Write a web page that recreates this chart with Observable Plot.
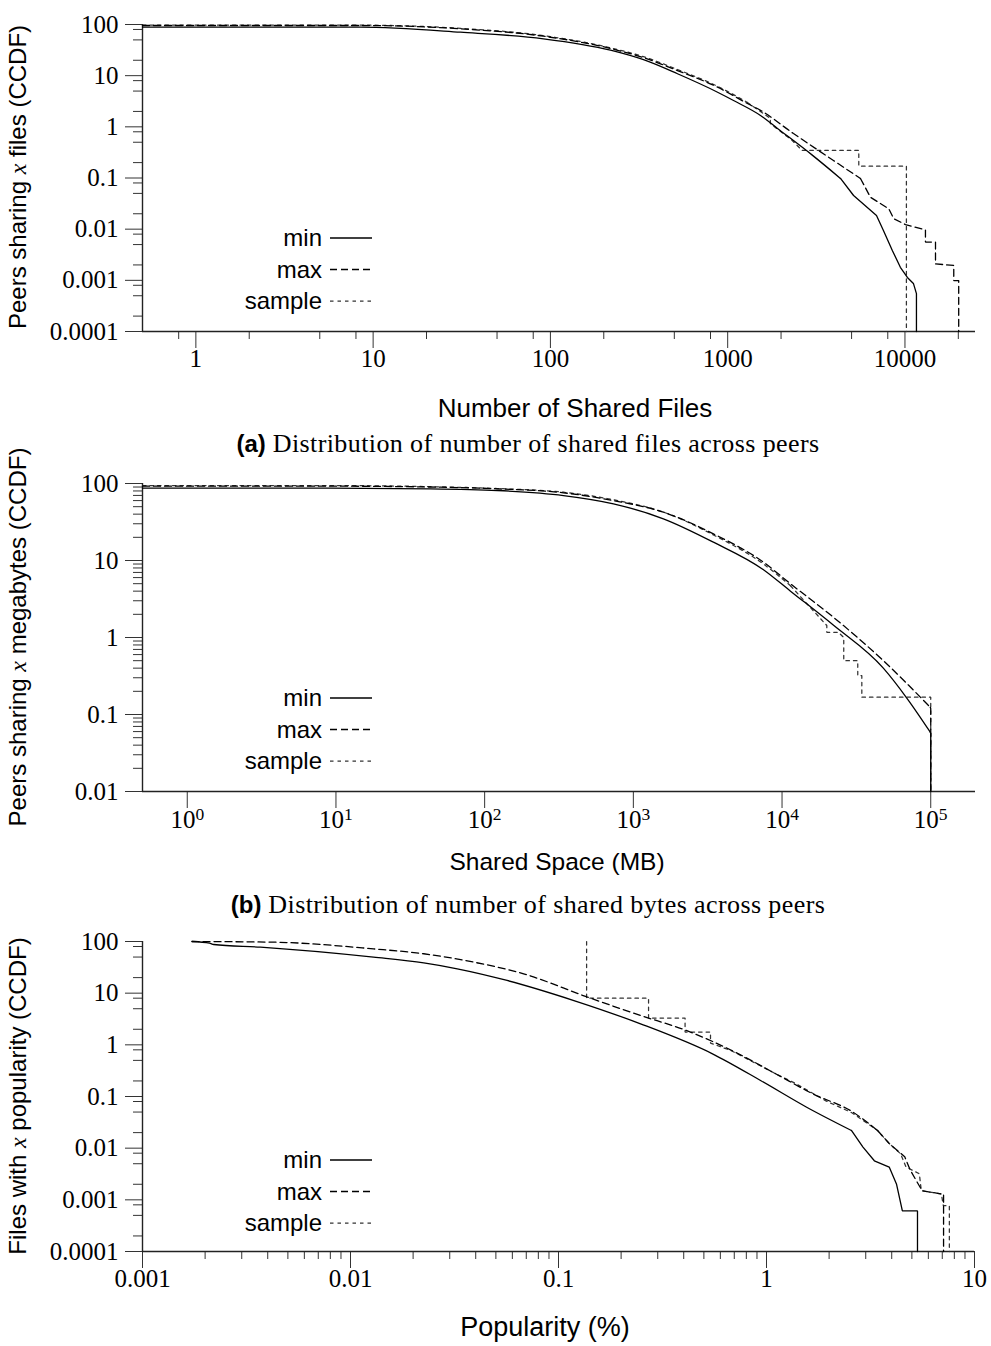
<!DOCTYPE html>
<html><head><meta charset="utf-8">
<script src="https://cdn.jsdelivr.net/npm/d3@7"></script>
<script src="https://cdn.jsdelivr.net/npm/@observablehq/plot@0.6"></script>
<style>
html,body{margin:0;padding:0;background:#fff;}
#fig{position:relative;width:991px;height:1346px;overflow:hidden;color:#000;background:#fff;}
.panel{position:absolute;left:0;}
.lbl{position:absolute;white-space:nowrap;font-family:"Liberation Sans",sans-serif;font-size:24px;line-height:1;transform:translate(-50%,-50%);}
.ylbl{transform:translate(-50%,-50%) rotate(-90deg);}
.cap{position:absolute;white-space:nowrap;font-family:"Liberation Serif",serif;font-size:26px;letter-spacing:0.4px;line-height:1;transform:translate(-50%,-50%);}
.cap b{font-family:"Liberation Sans",sans-serif;font-size:24px;letter-spacing:0;}
.math{font-family:"Liberation Serif",serif;font-style:italic;}
</style></head><body><div id="fig"></div>
<script>
// ---------- (a) Number of shared files ----------
const filesMinX = [0.5, 8.5, 31.1, 91.4, 218, 335, 521, 877, 1079, 1531, 1910, 3000, 4330, 5130, 6910, 7560, 8500, 9420, 10320, 11160, 11610, 11610];
const filesMinY = [89, 88.5, 70.7, 52.5, 31.5, 20.5, 10.9, 4.75, 3.27, 1.67, 0.93, 0.28, 0.098, 0.0455, 0.0185, 0.0094, 0.0038, 0.0018, 0.00114, 0.00087, 0.00055, 0.0001];
const filesMaxX = [0.5, 8.5, 31.1, 91.4, 218, 335, 521, 877, 1292, 1531, 2350, 3950, 5610, 6390, 8110, 8650, 10070, 13050, 13050, 14870, 14870, 18850, 18850, 20100, 20100];
const filesMaxY = [95.6, 95.6, 82.4, 59, 34, 22.5, 12.6, 5.96, 2.86, 2.1, 0.74, 0.22, 0.098, 0.042, 0.025, 0.016, 0.0123, 0.0097, 0.0056, 0.0056, 0.0021, 0.00195, 0.00099, 0.00099, 0.0001];
const filesSampleX = [0.5, 8.5, 31.1, 91.4, 218, 335, 521, 877, 1292, 1740, 1740, 2300, 2630, 5490, 5490, 10190, 10190];
const filesSampleY = [97, 97, 84, 60.5, 35, 23.5, 13.2, 6.2, 3.0, 1.46, 1.16, 0.55, 0.345, 0.345, 0.17, 0.17, 0.0001];
const filesXTicks = [1, 10, 100, 1000, 10000];
const filesXTickLabels = ["1", "10", "100", "1000", "10000"];
const filesXMinor = [0.8, 2, 5, 8, 20, 50, 80, 200, 500, 800, 2000, 5000, 8000, 20000];

// ---------- (b) Shared space ----------
const spaceMinX = [0.5, 9.18, 43.2, 122, 339, 735, 1593, 3455, 7500, 11400, 22100, 48000, 69600, 99300, 100000, 100000];
const spaceMinY = [86.9, 86.9, 85.3, 81.1, 69.8, 54.5, 34.8, 17.3, 7.6, 4.0, 1.45, 0.4, 0.16, 0.059, 0.057, 0.01];
const spaceMaxX = [0.5, 9.18, 43.2, 122, 339, 735, 1593, 3455, 7500, 11400, 22100, 48000, 99300, 100000, 100000];
const spaceMaxY = [92.3, 92.3, 90, 85.3, 75.7, 60, 42.4, 22.2, 9.5, 4.98, 1.84, 0.5, 0.124, 0.12, 0.01];
const spaceSampleX = [0.5, 9.18, 43.2, 122, 339, 735, 1593, 3455, 7500, 11400, 20000, 20000, 23900, 26000, 26000, 32300, 32300, 34400, 34400, 100000, 100000];
const spaceSampleY = [94, 94, 91, 86, 77, 61.5, 42.5, 21.5, 9.0, 4.7, 1.43, 1.17, 1.17, 1.0, 0.5, 0.5, 0.32, 0.32, 0.168, 0.168, 0.01];
const spaceXTicks = [1, 10, 100, 1000, 10000, 100000];
const spaceXTickLabels = ["10^0", "10^1", "10^2", "10^3", "10^4", "10^5"];

// ---------- (c) Popularity ----------
const popMinX = [0.00173, 0.0021, 0.0022, 0.00369, 0.0129, 0.0225, 0.0326, 0.0566, 0.1186, 0.248, 0.55, 0.945, 1.56, 2.56, 2.91, 3.3, 3.89, 4.22, 4.5, 5.32, 5.32];
const popMinY = [100, 93, 87.5, 77.6, 49.7, 38.5, 29.6, 17.6, 7.2, 2.55, 0.67, 0.2, 0.062, 0.022, 0.0105, 0.0057, 0.0043, 0.002, 0.00061, 0.00061, 0.0001];
const popMaxX = [0.00173, 0.00428, 0.0129, 0.0225, 0.0392, 0.068, 0.137, 0.248, 0.411, 0.734, 1.117, 1.69, 2.56, 3.42, 3.89, 4.62, 4.92, 5.6, 6.93, 7.1, 7.1];
const popMaxY = [100, 97, 72, 57.9, 39.8, 23.7, 8.46, 3.7, 1.9, 0.67, 0.27, 0.11, 0.052, 0.022, 0.0123, 0.0068, 0.0037, 0.0015, 0.0013, 0.0013, 0.0001];
const popSampleX = [0.1365, 0.1365, 0.271, 0.271, 0.406, 0.406, 0.538, 0.538, 0.678, 0.906, 1.117, 1.374, 1.92, 2.56, 3.42, 3.89, 4.41, 4.69, 5.43, 5.55, 6.93, 7.08, 7.57, 7.57];
const popSampleY = [100, 8.0, 8.0, 3.3, 3.3, 1.77, 1.77, 1.08, 0.77, 0.42, 0.27, 0.18, 0.083, 0.049, 0.022, 0.0123, 0.0078, 0.0043, 0.0032, 0.0015, 0.0013, 0.00077, 0.00077, 0.0001];
const popXTicks = [0.001, 0.01, 0.1, 1, 10];
const popXTickLabels = ["0.001", "0.01", "0.1", "1", "10"];

// ---------- shared y ticks ----------
const pctTicks6 = [0.0001, 0.001, 0.01, 0.1, 1, 10, 100];
const pctTickLabels6 = ["0.0001", "0.001", "0.01", "0.1", "1", "10", "100"];
const pctTicks4 = [0.01, 0.1, 1, 10, 100];
const pctTickLabels4 = ["0.01", "0.1", "1", "10", "100"];
const minorMult258 = [2, 5, 8];
const minorMultAll = [2, 3, 4, 5, 6, 7, 8, 9];

const seriesNames = ["min", "max", "sample"];
const seriesStyle = {
  min: {stroke: "#000", dash: null, width: 1.3},
  max: {stroke: "#000", dash: "7,4", width: 1.3},
  sample: {stroke: "#333", dash: "3.5,4", width: 1.25}
};

function minors(decades, mults) {
  const out = [];
  for (const d of decades) for (const m of mults) out.push(+(d * m).toPrecision(6));
  return out;
}
function rows(xs, ys) { return xs.map((x, i) => ({x, y: ys[i]})); }

function panel(cfg) {
  const lab = (ticks, labels) => d => labels[ticks.indexOf(d)];
  const marks = [];
  if (cfg.yMinor.length) marks.push(Plot.axisY(cfg.yMinor, {tickSize: 9, tickFormat: () => "", label: null, stroke: "#333"}));
  marks.push(Plot.axisY(cfg.yTicks, {tickSize: 17, tickPadding: 7, tickFormat: lab(cfg.yTicks, cfg.yTickLabels), label: null, stroke: "#333"}));
  if (cfg.xMinor.length) marks.push(Plot.axisX(cfg.xMinor, {tickSize: 8, tickFormat: () => "", label: null, stroke: "#333"}));
  marks.push(Plot.axisX(cfg.xTicks, {tickSize: 17, tickPadding: cfg.xPad, tickFormat: lab(cfg.xTicks, cfg.xTickLabels), label: null, stroke: "#333"}));
  marks.push(Plot.ruleX([cfg.xDomain[0]], {stroke: "#222", strokeWidth: 1.4}));
  marks.push(Plot.ruleY([cfg.yDomain[0]], {stroke: "#222", strokeWidth: 1.4}));
  for (const name of ["sample", "max", "min"]) {
    const s = cfg.series[name], st = seriesStyle[name];
    const data = rows(s[0], s[1]);
    const knee = s[2];
    const opts = {x: "x", y: "y", stroke: st.stroke, strokeWidth: st.width, strokeDasharray: st.dash, strokeLinejoin: "miter"};
    if (knee > 0) {
      marks.push(Plot.line(data.slice(0, knee + 1), {...opts, curve: "monotone-x"}));
      marks.push(Plot.line(data.slice(knee), opts));
    } else {
      marks.push(Plot.line(data, opts));
    }
  }
  const svg = Plot.plot({
    width: 991, height: cfg.height,
    marginLeft: 142, marginRight: cfg.marginRight, marginTop: cfg.marginTop, marginBottom: cfg.marginBottom,
    style: {fontFamily: "'Liberation Serif', serif", fontSize: "25px", background: "transparent", color: "#000", overflow: "visible"},
    x: {type: "log", domain: cfg.xDomain},
    y: {type: "log", domain: cfg.yDomain},
    marks
  });
  d3.select(svg).selectAll("text").each(function () {
    const m = /^(\d+)\^(\d+)$/.exec(this.textContent);
    if (m) {
      const sel = d3.select(this);
      sel.text(null);
      sel.append("tspan").text(m[1]);
      sel.append("tspan").attr("dy", "-0.45em").attr("font-size", "0.7em").text(m[2]);
    }
  });
  const div = document.createElement("div");
  div.className = "panel";
  div.style.top = cfg.top + "px";
  div.appendChild(svg);
  return div;
}

function legend(top) {
  const svg = d3.create("svg").attr("width", 400).attr("height", 110)
    .style("position", "absolute").style("left", "0px").style("top", (top - 20) + "px");
  seriesNames.forEach((name, i) => {
    const y = 20 + i * 31.5, st = seriesStyle[name];
    svg.append("text").attr("x", 322).attr("y", y).attr("dy", "0.35em").attr("text-anchor", "end")
      .attr("font-family", "'Liberation Sans', sans-serif").attr("font-size", 24).text(name);
    svg.append("line").attr("x1", 330).attr("x2", 372).attr("y1", y).attr("y2", y)
      .attr("stroke", st.stroke).attr("stroke-width", st.width).attr("stroke-dasharray", st.dash);
  });
  return svg.node();
}

function html(cls, x, y, inner, size) {
  const d = document.createElement("div");
  d.className = cls;
  d.style.left = x + "px"; d.style.top = y + "px";
  if (size) d.style.fontSize = size + "px";
  d.innerHTML = inner;
  return d;
}

const fig = document.getElementById("fig");

fig.appendChild(panel({
  top: 0, height: 380, marginTop: 24, marginBottom: 49, marginRight: 16, xPad: 1,
  xDomain: [0.5, 25000], yDomain: [0.0001, 100],
  xTicks: filesXTicks, xTickLabels: filesXTickLabels, xMinor: filesXMinor,
  yTicks: pctTicks6, yTickLabels: pctTickLabels6, yMinor: minors([0.0001, 0.001, 0.01, 0.1, 1, 10], minorMult258),
  series: {min: [filesMinX, filesMinY, 12], max: [filesMaxX, filesMaxY, 12], sample: [filesSampleX, filesSampleY, 8]}
}));
fig.appendChild(panel({
  top: 460, height: 371, marginTop: 23, marginBottom: 40, marginRight: 16, xPad: 2,
  xDomain: [0.5, 200000], yDomain: [0.01, 100],
  xTicks: spaceXTicks, xTickLabels: spaceXTickLabels, xMinor: [],
  yTicks: pctTicks4, yTickLabels: pctTickLabels4, yMinor: minors([0.01, 0.1, 1, 10], minorMultAll),
  series: {min: [spaceMinX, spaceMinY, 13], max: [spaceMaxX, spaceMaxY, 12], sample: [spaceSampleX, spaceSampleY, 9]}
}));
fig.appendChild(panel({
  top: 920, height: 371, marginTop: 21, marginBottom: 40, marginRight: 17, xPad: 1,
  xDomain: [0.001, 10], yDomain: [0.0001, 100],
  xTicks: popXTicks, xTickLabels: popXTickLabels, xMinor: minors([0.001, 0.01, 0.1, 1], minorMultAll),
  yTicks: pctTicks6, yTickLabels: pctTickLabels6, yMinor: minors([0.0001, 0.001, 0.01, 0.1, 1, 10], minorMult258),
  series: {min: [popMinX, popMinY, 13], max: [popMaxX, popMaxY, 13], sample: [popSampleX, popSampleY, 0]}
}));

fig.appendChild(legend(238));
fig.appendChild(legend(698));
fig.appendChild(legend(1160));

fig.appendChild(html("lbl ylbl", 18, 177, 'Peers sharing <span class="math">x</span> files (CCDF)'));
fig.appendChild(html("lbl", 575, 408, "Number of Shared Files", 26));
fig.appendChild(html("cap", 528, 444, "<b>(a)</b> Distribution of number of shared files across peers"));

fig.appendChild(html("lbl ylbl", 18, 637, 'Peers sharing <span class="math">x</span> megabytes (CCDF)'));
fig.appendChild(html("lbl", 557, 862, "Shared Space (MB)", 24.5));
fig.appendChild(html("cap", 528, 905, "<b>(b)</b> Distribution of number of shared bytes across peers"));

fig.appendChild(html("lbl ylbl", 18, 1096, 'Files with <span class="math">x</span> popularity (CCDF)'));
fig.appendChild(html("lbl", 545, 1327, "Popularity (%)", 27));
</script></body></html>
